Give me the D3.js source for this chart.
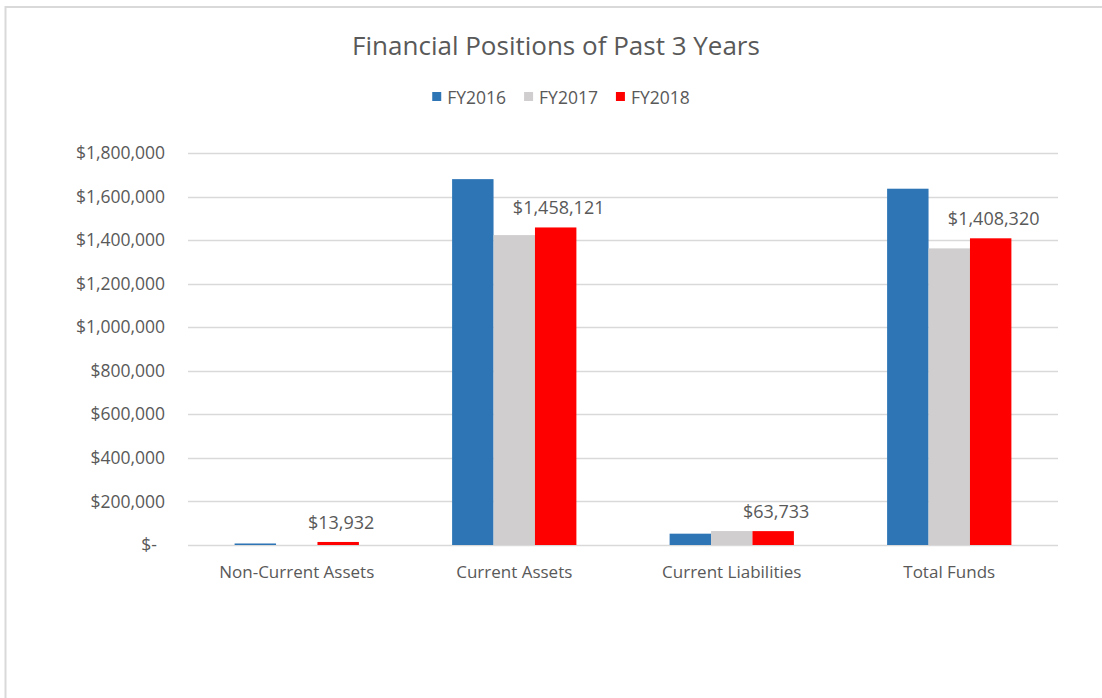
<!DOCTYPE html>
<html>
<head>
<meta charset="utf-8">
<script src="https://cdn.jsdelivr.net/npm/d3@7"></script>
<style>
  html, body { margin: 0; padding: 0; background: #fff; }
  svg { display: block; }
  text { font-family: "Open Sans", "Noto Sans", sans-serif; fill: #595959; }
</style>
</head>
<body>
<svg id="chart" width="1102" height="698"></svg>
<script>
// ---- data ----
const categories = ["Non-Current Assets", "Current Assets", "Current Liabilities", "Total Funds"];
const seriesNames = ["FY2016", "FY2017", "FY2018"];
const fy2016 = [7000, 1680000, 52000, 1636000];
const fy2017 = [0, 1423000, 64000, 1362000];
const fy2018 = [13932, 1458121, 63733, 1408320];
const labeledSeries = "FY2018";
const yTicks = [0, 200000, 400000, 600000, 800000, 1000000, 1200000, 1400000, 1600000, 1800000];
const title = "Financial Positions of Past 3 Years";
const colors = { FY2016: "#2E75B6", FY2017: "#D0CECE", FY2018: "#FF0000" };

const seriesValues = { FY2016: fy2016, FY2017: fy2017, FY2018: fy2018 };

const W = 1102, H = 698;
const margin = { left: 188, right: 44, top: 153, bottom: 153 };
const plotBottom = 545;

const svg = d3.select("#chart");

// outer chart border (partially visible frame)
svg.append("rect")
  .attr("x", 5.5).attr("y", 7).attr("width", W + 10).attr("height", H + 10)
  .attr("fill", "none").attr("stroke", "#d9d9d9").attr("stroke-width", 2);

const x0 = d3.scaleBand().domain(categories).range([margin.left, W - margin.right]).padding(0);
const gapRatio = 2.25; // gap width relative to bar width
const barW = x0.bandwidth() / (seriesNames.length + gapRatio);
const x1 = d3.scaleBand().domain(seriesNames)
  .range([gapRatio * barW / 2, gapRatio * barW / 2 + barW * seriesNames.length]).padding(0);

const y = d3.scaleLinear().domain([0, 1800000]).range([plotBottom, margin.top]);

const fmt = v => v === 0 ? "$-" : "$" + d3.format(",")(v);

// gridlines
svg.append("g").selectAll("line").data(yTicks).join("line")
  .attr("x1", margin.left).attr("x2", W - margin.right)
  .attr("y1", d => Math.round(y(d)) + 0.5).attr("y2", d => Math.round(y(d)) + 0.5)
  .attr("stroke", "#d9d9d9").attr("stroke-width", 1.3);

// y axis labels via d3 axis
const yAxis = d3.axisLeft(y).tickValues(yTicks).tickFormat(fmt).tickSize(0).tickPadding(0);
const yg = svg.append("g").attr("transform", `translate(${165},0)`).call(yAxis);
yg.select(".domain").remove();
yg.selectAll("text")
  .style("font-family", '"Open Sans", "Noto Sans", sans-serif')
  .style("font-size", "17.5px").attr("fill", "#595959")
  .attr("dx", d => d === 0 ? -8 : 0);

// bars
const groups = svg.append("g").selectAll("g").data(categories).join("g")
  .attr("transform", d => `translate(${x0(d)},0)`);

groups.selectAll("rect")
  .data((c, i) => seriesNames.map(s => ({ s, v: seriesValues[s][i] })))
  .join("rect")
  .attr("x", d => x1(d.s))
  .attr("width", x1.bandwidth())
  .attr("y", d => y(d.v))
  .attr("height", d => plotBottom - y(d.v))
  .attr("fill", d => colors[d.s]);

// data labels
groups.selectAll("text.lbl")
  .data((c, i) => [{ s: labeledSeries, v: seriesValues[labeledSeries][i] }])
  .join("text").attr("class", "lbl")
  .attr("x", d => x1(d.s) + x1.bandwidth() / 2 + 3)
  .attr("y", d => y(d.v) - 20)
  .attr("text-anchor", "middle")
  .attr("dominant-baseline", "central")
  .style("font-size", "18px")
  .text(d => fmt(d.v));

// x axis labels
const xAxis = d3.axisBottom(x0).tickSize(0).tickPadding(0);
const xg = svg.append("g").attr("transform", `translate(0,${572})`).call(xAxis);
xg.select(".domain").remove();
xg.selectAll("text")
  .style("font-family", '"Open Sans", "Noto Sans", sans-serif')
  .style("font-size", "17px").attr("fill", "#595959")
  .attr("y", 0).attr("dy", "0.35em");

// title
svg.append("text")
  .attr("x", 556).attr("y", 45)
  .attr("text-anchor", "middle").attr("dominant-baseline", "central")
  .style("font-size", "26px")
  .text(title);

// legend
const legend = svg.append("g");
let lx = 0;
seriesNames.forEach((s, i) => {
  const g = legend.append("g").attr("transform", `translate(${lx},0)`);
  g.append("rect").attr("x", 0).attr("y", -4.5).attr("width", 9).attr("height", 9).attr("fill", colors[s]);
  const t = g.append("text").attr("x", 15).attr("y", 0).attr("dominant-baseline", "central")
    .style("font-size", "17.5px").text(s);
  lx += 15 + t.node().getComputedTextLength() + 18;
});
const legendW = lx - 18;
legend.attr("transform", `translate(${561 - legendW / 2},${96.5})`);
</script>
</body>
</html>
